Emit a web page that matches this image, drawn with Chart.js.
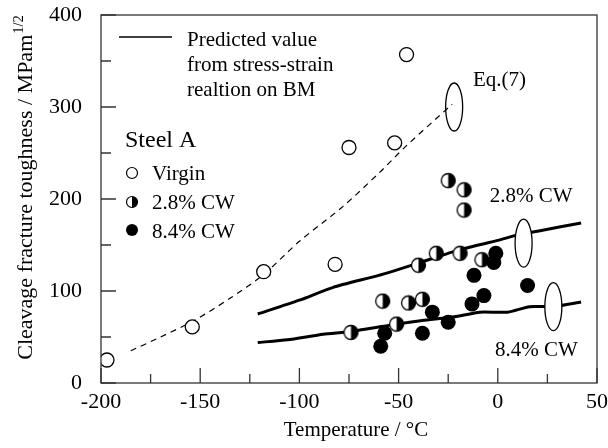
<!DOCTYPE html>
<html>
<head>
<meta charset="utf-8">
<script src="https://cdn.jsdelivr.net/npm/chart.js@4.4.1/dist/chart.umd.min.js"></script>
<style>
  html, body { margin: 0; padding: 0; background: #fff; }
  #wrap { width: 608px; height: 448px; }
</style>
</head>
<body>
<div id="wrap"><canvas id="myChart" width="608" height="448"></canvas></div>
<script>
// tick labels
const xTicks = [-200, -150, -100, -50, 0, 50];
const xMinor = [-175, -125, -75, -25, 25];
const yTicks = [0, 100, 200, 300, 400];
const yMinor = [50, 150, 250, 350];

// measured points (temperature, toughness)
const virginT = [-197, -154, -118, -82, -75, -52, -46];
const virginK = [25, 61, 121, 129, 256, 261, 357];

const cw28T = [-25, -17, -17, -31, -19, -40, -8, -58, -45, -38, -51, -74];
const cw28K = [220, 210, 188, 141, 141, 128, 134, 89, 87, 91, 64, 55];

const cw84T = [-1, -2, -12, 15, -7, -13, -33, -25, -38, -57, -59];
const cw84K = [141, 131, 117, 106, 95, 86, 77, 66, 54, 54, 40];

// predicted curves
const pred28T = [-121, -100, -83, -60, -42, -19, 0, 10, 20, 42];
const pred28K = [75, 90, 104, 117, 129, 145, 155, 161, 165, 174];

const pred84T = [-121, -106, -88, -74, -51, -38, -22, -9, 5, 16, 28, 42];
const pred84K = [44, 47, 53, 56, 64, 68, 72, 77, 77, 83, 83, 88];

const eq7T = [-185, -170, -153, -135, -118, -100, -78, -60, -46, -23];
const eq7K = [35, 50, 68, 92, 118, 154, 192, 228, 258, 303];

// ellipse markers and their labels, in data units
const ellipses = [
  { t: -22, k: 300, fill: false },
  { t: 13, k: 152, fill: true },
  { t: 28, k: 83, fill: true }
];
const notes = [
  { text: 'Eq.(7)', t: -12.5, k: 329 },
  { text: '2.8% CW', t: -4, k: 203 },
  { text: '8.4% CW', t: -1.4, k: 35 }
];

const FONT = '"Liberation Serif", "DejaVu Serif", serif';

function pts(xs, ys) {
  return xs.map((x, i) => ({ x: x, y: ys[i] }));
}

function halfCircle(r) {
  const c = document.createElement('canvas');
  const s = Math.ceil(2 * r + 3);
  c.width = s; c.height = s;
  const g = c.getContext('2d');
  const m = s / 2;
  g.beginPath(); g.arc(m, m, r, 0, Math.PI * 2);
  g.fillStyle = '#fff'; g.fill();
  g.beginPath(); g.moveTo(m, m - r); g.arc(m, m, r, -Math.PI / 2, Math.PI / 2); g.closePath();
  g.fillStyle = '#000'; g.fill();
  g.beginPath(); g.arc(m, m, r, 0, Math.PI * 2);
  g.lineWidth = 1.3; g.strokeStyle = '#000'; g.stroke();
  return c;
}

const halfImg = halfCircle(7);

const decor = {
  id: 'decor',
  afterDatasetsDraw(chart) {
    const ctx = chart.ctx;
    const x = chart.scales.x, y = chart.scales.y;
    const a = chart.chartArea;
    ctx.save();
    // ellipses
    ellipses.forEach(e => {
      ctx.beginPath();
      ctx.ellipse(x.getPixelForValue(e.t), y.getPixelForValue(e.k), 8.5, 24, 0, 0, Math.PI * 2);
      if (e.fill) { ctx.fillStyle = '#fff'; ctx.fill(); }
      ctx.lineWidth = 1.3; ctx.strokeStyle = '#000'; ctx.stroke();
    });
    ctx.fillStyle = '#000';
    ctx.font = '21px ' + FONT;
    ctx.textBaseline = 'middle';
    ctx.textAlign = 'left';
    notes.forEach(n => ctx.fillText(n.text, x.getPixelForValue(n.t), y.getPixelForValue(n.k)));

    // frame
    ctx.lineWidth = 1.3;
    ctx.strokeStyle = '#333';
    ctx.strokeRect(a.left, a.top, a.right - a.left, a.bottom - a.top);
    // inward ticks
    ctx.beginPath();
    xTicks.forEach(v => { const p = x.getPixelForValue(v); ctx.moveTo(p, a.bottom); ctx.lineTo(p, a.bottom - 15); });
    xMinor.forEach(v => { const p = x.getPixelForValue(v); ctx.moveTo(p, a.bottom); ctx.lineTo(p, a.bottom - 9); });
    yTicks.forEach(v => { const p = y.getPixelForValue(v); ctx.moveTo(a.left, p); ctx.lineTo(a.left + 15, p); });
    yMinor.forEach(v => { const p = y.getPixelForValue(v); ctx.moveTo(a.left, p); ctx.lineTo(a.left + 10, p); });
    ctx.stroke();

    // legend
    ctx.strokeStyle = '#000';
    ctx.lineWidth = 1.7;
    ctx.beginPath(); ctx.moveTo(119, 37); ctx.lineTo(172, 37); ctx.stroke();
    ctx.textBaseline = 'alphabetic';
    ctx.font = '21px ' + FONT;
    ctx.fillText('Predicted value', 187, 46);
    ctx.fillText('from stress-strain', 187, 71);
    ctx.fillText('realtion on BM', 187, 96);
    ctx.font = '24px ' + FONT;
    ctx.fillText('Steel A', 125, 147);
    ctx.font = '21px ' + FONT;
    ctx.fillText('Virgin', 152, 180);
    ctx.fillText('2.8% CW', 152, 209);
    ctx.fillText('8.4% CW', 152, 238);
    ctx.lineWidth = 1.2;
    ctx.beginPath(); ctx.arc(132, 173, 5.5, 0, Math.PI * 2); ctx.fillStyle = '#fff'; ctx.fill(); ctx.stroke();
    ctx.beginPath(); ctx.arc(132, 202, 5.5, 0, Math.PI * 2); ctx.fill(); ctx.stroke();
    ctx.beginPath(); ctx.moveTo(132, 196.5); ctx.arc(132, 202, 5.5, -Math.PI / 2, Math.PI / 2); ctx.closePath();
    ctx.fillStyle = '#000'; ctx.fill();
    ctx.beginPath(); ctx.arc(132, 230, 6, 0, Math.PI * 2); ctx.fill();

    // axis titles
    ctx.font = '21px ' + FONT;
    ctx.textAlign = 'center';
    ctx.fillText('Temperature / \u00B0C', 356, 436);
    ctx.save();
    ctx.translate(32, 188);
    ctx.rotate(-Math.PI / 2);
    ctx.textAlign = 'left';
    const main = 'Cleavage fracture toughness / MPam';
    ctx.font = '22px ' + FONT;
    const w = ctx.measureText(main).width;
    ctx.font = '14.5px ' + FONT;
    const ws = ctx.measureText('1/2').width;
    const start = -(w + ws) / 2;
    ctx.font = '22px ' + FONT;
    ctx.fillText(main, start, 0);
    ctx.font = '14.5px ' + FONT;
    ctx.fillText('1/2', start + w + 1, -9);
    ctx.restore();
    ctx.restore();
  }
};

const ctx = document.getElementById('myChart');
const myChart = new Chart(ctx, {
  type: 'scatter',
  data: {
    datasets: [
      { label: '8.4% CW', data: pts(cw84T, cw84K), order: 1,
        pointStyle: 'circle', pointRadius: 7.5, backgroundColor: '#000', borderColor: '#000', borderWidth: 0 },
      { label: '2.8% CW', data: pts(cw28T, cw28K), order: 2,
        pointStyle: halfImg, pointRadius: 7 },
      { label: 'Virgin', data: pts(virginT, virginK), order: 3,
        pointStyle: 'circle', pointRadius: 7, backgroundColor: '#fff', borderColor: '#000', borderWidth: 1.3 },
      { label: 'pred 2.8', type: 'line', data: pts(pred28T, pred28K), order: 4,
        borderColor: '#000', borderWidth: 3, pointRadius: 0, fill: false, tension: 0.2 },
      { label: 'pred 8.4', type: 'line', data: pts(pred84T, pred84K), order: 5,
        borderColor: '#000', borderWidth: 3, pointRadius: 0, fill: false, tension: 0.2 },
      { label: 'Eq.(7)', type: 'line', data: pts(eq7T, eq7K), order: 6,
        borderColor: '#000', borderWidth: 1.2, borderDash: [6, 5], pointRadius: 0, fill: false, tension: 0.3 }
    ]
  },
  options: {
    responsive: false,
    animation: false,
    layout: { padding: { top: 15, right: 11, left: 0, bottom: 0 } },
    plugins: { legend: { display: false }, tooltip: { enabled: false } },
    scales: {
      x: {
        type: 'linear', min: -200, max: 50,
        afterBuildTicks: s => { s.ticks = xTicks.map(v => ({ value: v })); },
        afterFit: s => { s.height = 65; s.paddingLeft = 0; s.paddingRight = 0; },
        grid: { display: false },
        border: { display: false },
        ticks: { color: '#000', padding: -2, font: { family: FONT, size: 22 } }
      },
      y: {
        min: 0, max: 400,
        afterBuildTicks: s => { s.ticks = yTicks.map(v => ({ value: v })); },
        afterFit: s => { s.width = 101; s.paddingTop = 0; s.paddingBottom = 0; },
        grid: { display: false },
        border: { display: false },
        ticks: { color: '#000', padding: 11, font: { family: FONT, size: 22 } }
      }
    }
  },
  plugins: [decor]
});
</script>
</body>
</html>
